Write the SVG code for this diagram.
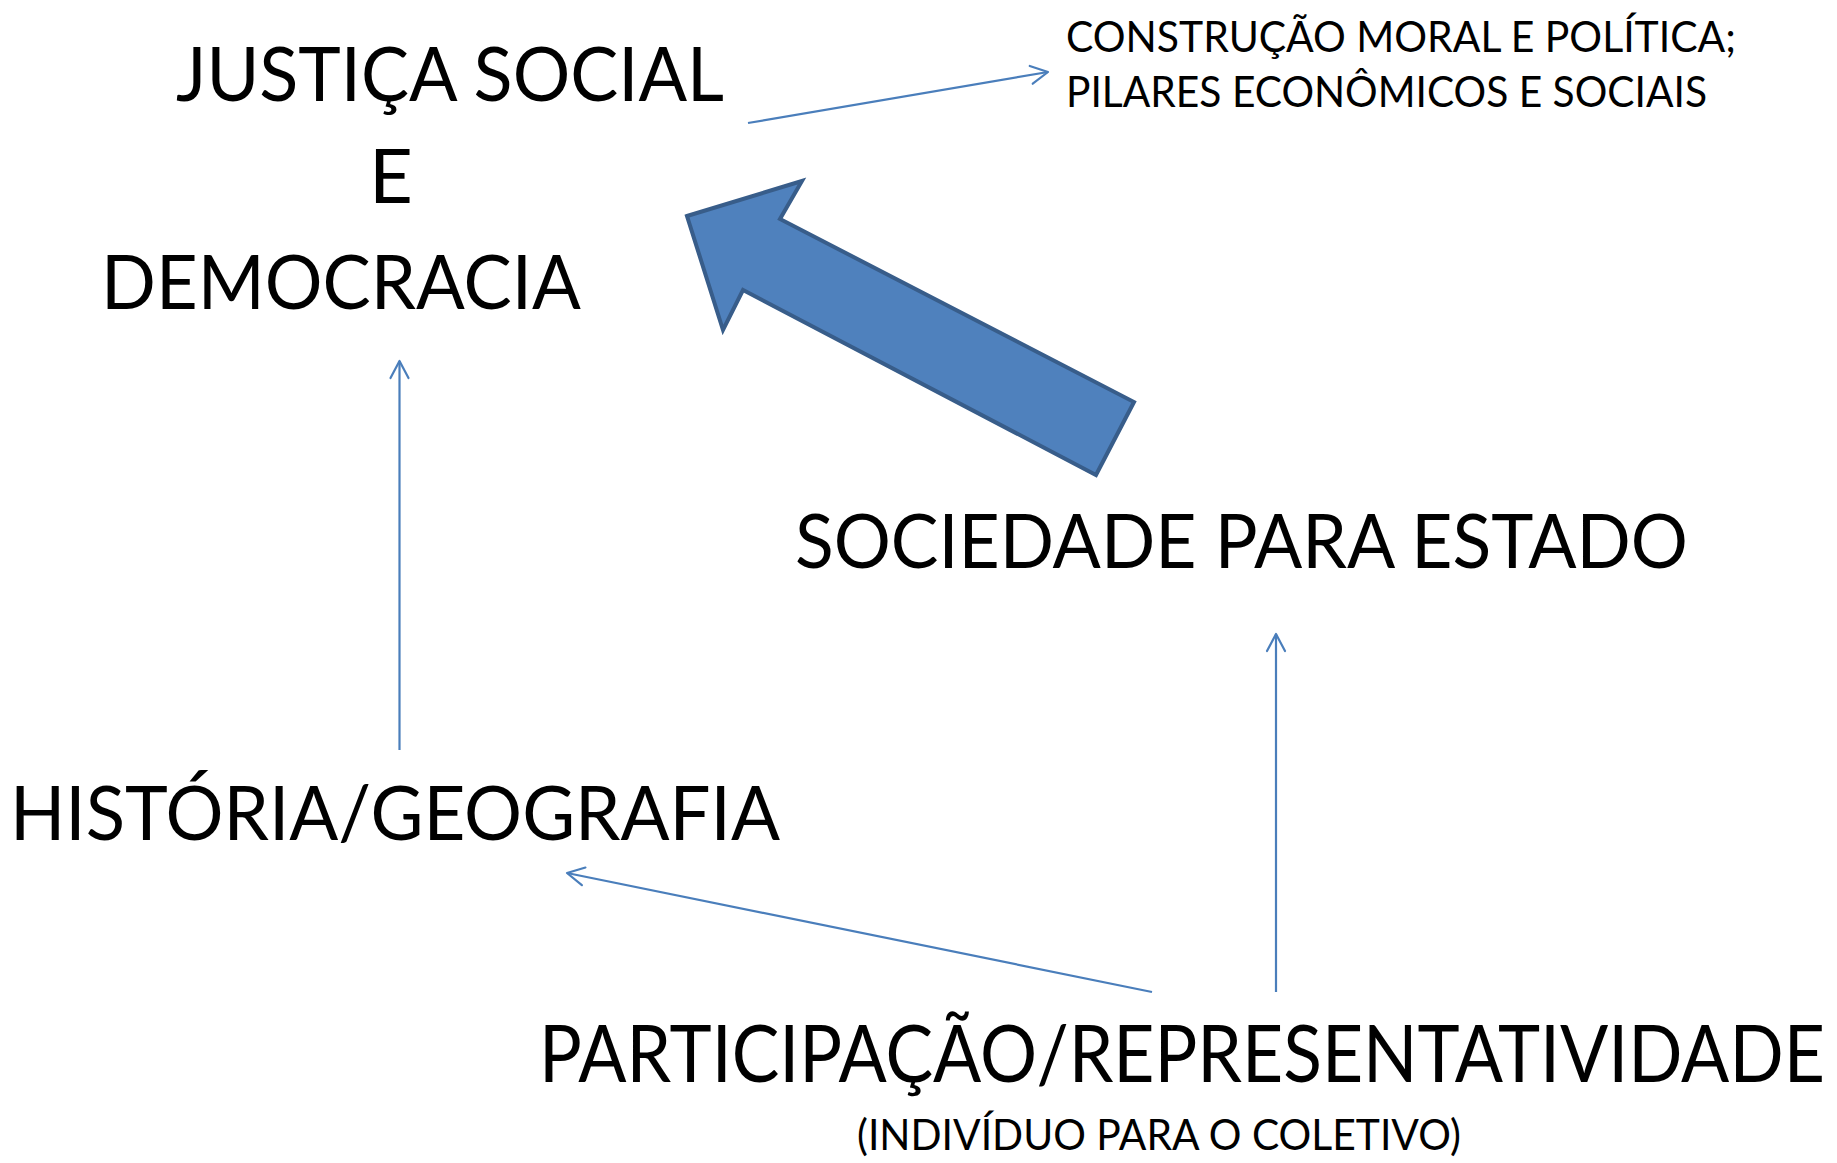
<svg xmlns="http://www.w3.org/2000/svg" width="1837" height="1163" viewBox="0 0 1837 1163">
<style>
.t{font-family:"Liberation Sans Narrow","Lato","Liberation Sans",sans-serif;fill:#000}
.big{font-size:76px}
.mid{font-size:79px}
.small{font-size:43px}
.conn{fill:none;stroke:#4A7EBB;stroke-width:2.2}
.ah{fill:none;stroke:#4A7EBB;stroke-width:2.2;stroke-linecap:round;stroke-linejoin:round}
</style>
<defs>
<marker id="open" markerUnits="userSpaceOnUse" viewBox="-20 -12 24 24" refX="0" refY="0" markerWidth="24" markerHeight="24" orient="auto" overflow="visible">
<path class="ah" d="M-17,-9 L0,0 L-17,9"/>
</marker>
</defs>
<rect width="1837" height="1163" fill="#fff"/>
<g id="connectors">
<line class="conn" x1="748" y1="123" x2="1048" y2="72" marker-end="url(#open)"/>
<line class="conn" x1="399.5" y1="750" x2="399.5" y2="361" marker-end="url(#open)"/>
<line class="conn" x1="1152" y1="992" x2="567" y2="873" marker-end="url(#open)"/>
<line class="conn" x1="1276" y1="992" x2="1276" y2="634" marker-end="url(#open)"/>
<polygon id="big-arrow" points="687,216 802,181 780,219 1134,402 1096,475 743,290 723,330" fill="#4F81BD" stroke="#385D8A" stroke-width="4" stroke-linejoin="miter"/>
</g>
<g id="node-justica">
<text class="t big" x="176" y="101" textLength="548" lengthAdjust="spacingAndGlyphs">JUSTIÇA SOCIAL</text>
<text class="t big" x="391" y="203" text-anchor="middle">E</text>
<text class="t big" x="101" y="309" textLength="480" lengthAdjust="spacingAndGlyphs">DEMOCRACIA</text>
</g>
<g id="node-construcao">
<text class="t small" x="1066" y="52" textLength="670" lengthAdjust="spacingAndGlyphs">CONSTRUÇÃO MORAL E POLÍTICA;</text>
<text class="t small" x="1066" y="107" textLength="641" lengthAdjust="spacingAndGlyphs">PILARES ECONÔMICOS E SOCIAIS</text>
</g>
<g id="node-sociedade">
<text class="t big" x="795" y="568" textLength="893" lengthAdjust="spacingAndGlyphs">SOCIEDADE PARA ESTADO</text>
</g>
<g id="node-historia">
<text class="t big" x="10" y="840" textLength="770" lengthAdjust="spacingAndGlyphs">HISTÓRIA/GEOGRAFIA</text>
</g>
<g id="node-participacao">
<text class="t mid" transform="translate(539,1082) scale(0.888,1)" x="0" y="0" textLength="1448" lengthAdjust="spacingAndGlyphs">PARTICIPAÇÃO/REPRESENTATIVIDADE</text>
<text class="t small" x="857" y="1150" textLength="604" lengthAdjust="spacingAndGlyphs">(INDIVÍDUO PARA O COLETIVO)</text>
</g>
</svg>
